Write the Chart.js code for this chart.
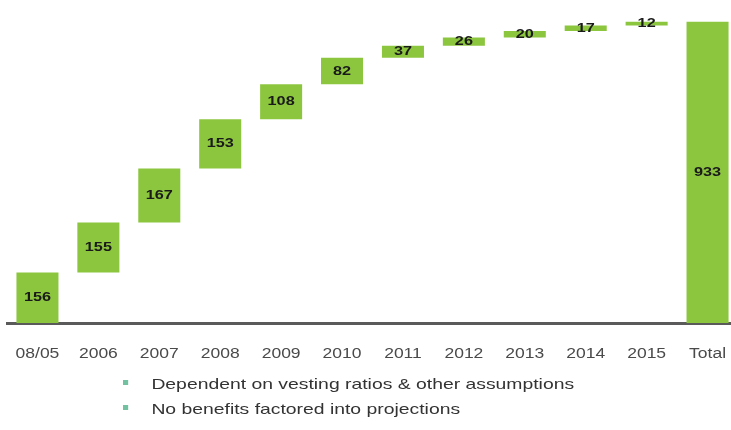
<!DOCTYPE html>
<html>
<head>
<meta charset="utf-8">
<script src="https://cdn.jsdelivr.net/npm/chart.js@4.4.0/dist/chart.umd.min.js"></script>
<style>
  html, body { margin: 0; padding: 0; background: #fff; overflow: hidden; }
  #wrap { position: relative; width: 731px; height: 430px; overflow: hidden; }
  #legend { position: absolute; left: 123px; top: 373px; font-family: "Liberation Sans", Arial, sans-serif; font-size: 15px; color: #333; transform: scaleX(1.29); transform-origin: left top; white-space: nowrap; }
  #legend div { height: 25px; line-height: 22px; }
  #legend span.mk { display: inline-block; width: 4px; height: 5px; background: #72c2a2; margin-right: 18px; vertical-align: 4px; }
</style>
</head>
<body>
<div id="wrap">
  <canvas id="myChart" width="738" height="430"></canvas>
  <div id="legend">
    <div><span class="mk"></span>Dependent on vesting ratios &amp; other assumptions</div>
    <div><span class="mk"></span>No benefits factored into projections</div>
  </div>
</div>
<script>
const categories = ['08/05', '2006', '2007', '2008', '2009', '2010', '2011', '2012', '2013', '2014', '2015', 'Total'];
const increments = [156, 155, 167, 153, 108, 82, 37, 26, 20, 17, 12];
const totalValue = 933;

document.addEventListener('DOMContentLoaded', () => {
    const ctx = document.getElementById('myChart').getContext('2d');

    // 積み上げ位置を計算
    const floating = [];
    const labels = [];
    let running = 0;
    increments.forEach(v => {
        floating.push([running, running + v]);
        labels.push(v);
        running += v;
    });
    floating.push([0, totalValue]);
    labels.push(totalValue);

    // 横に引き伸ばした文字を描く
    function wideText(c, text, x, y, sx) {
        c.save();
        c.translate(x, y);
        c.scale(sx, 1);
        c.fillText(text, 0, 0);
        c.restore();
    }

    const textLayer = {
        id: 'textLayer',
        afterDraw(chart) {
            const c = chart.ctx;
            const meta = chart.getDatasetMeta(0);
            const xScale = chart.scales.x;
            c.save();
            c.textAlign = 'center';
            c.textBaseline = 'middle';
            c.font = 'bold 13px "Liberation Sans Narrow", "Liberation Sans", Arial, sans-serif';
            c.fillStyle = '#1a1a1a';
            meta.data.forEach((bar, i) => {
                wideText(c, String(labels[i]), bar.x, (bar.y + bar.base) / 2, 1.25);
            });
            c.font = '14px "Liberation Sans", Arial, sans-serif';
            c.fillStyle = '#4a4a4a';
            categories.forEach((cat, i) => {
                wideText(c, cat, xScale.getPixelForValue(i), chart.chartArea.bottom + 31, 1.25);
            });
            c.restore();
        }
    };

    new Chart(ctx, {
        type: 'bar',
        data: {
            labels: categories,
            datasets: [{
                data: floating,
                backgroundColor: '#8cc63f',
                borderWidth: 0,
                barPercentage: 0.69,
                categoryPercentage: 1.0
            }]
        },
        options: {
            responsive: false,
            animation: false,
            layout: { padding: { left: 7, right: 0, top: 0, bottom: 107 } },
            scales: {
                x: {
                    grid: { display: false, drawTicks: false },
                    border: { display: true, color: '#5a5a5a', width: 3 },
                    ticks: { display: false }
                },
                y: {
                    display: false,
                    min: 0,
                    max: 1000
                }
            },
            plugins: {
                legend: { display: false },
                tooltip: { enabled: false }
            }
        },
        plugins: [textLayer]
    });
});
</script>
</body>
</html>
